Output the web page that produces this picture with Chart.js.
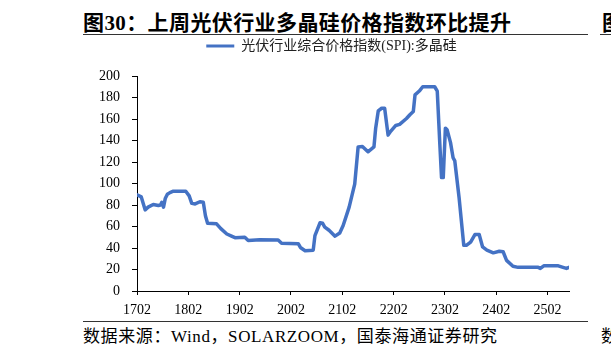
<!DOCTYPE html>
<html>
<head>
<meta charset="utf-8">
<script src="https://cdn.jsdelivr.net/npm/chart.js@4.4.1/dist/chart.umd.min.js"></script>
<style>
  html, body { margin: 0; padding: 0; background: #fff; }
  body { width: 611px; height: 354px; position: relative; overflow: hidden; font-family: "Liberation Serif", "Noto Sans CJK SC", serif; }
  #title { position: absolute; left: 83px; top: 6px; font-size: 21px; font-weight: bold; letter-spacing: 0.4px; white-space: nowrap; color: #000; }
  #title-rule { position: absolute; left: 83px; top: 34px; width: 505px; border-top: 1.5px solid #333; }
  #next-title { position: absolute; left: 602px; top: 6px; font-size: 21px; font-weight: bold; color: #000; }
  #next-rule { position: absolute; left: 600px; top: 34px; width: 20px; border-top: 1.5px solid #333; }
  #chart-box { position: absolute; left: 0; top: 18px; width: 611px; height: 302px; }
  #source-rule { position: absolute; left: 83px; top: 321px; width: 505px; border-top: 1px solid #333; }
  #source { position: absolute; left: 83px; top: 322px; font-size: 17px; letter-spacing: 0.6px; white-space: pre; color: #000; }
  #next-source { position: absolute; left: 601px; top: 322px; font-size: 17px; color: #000; }
</style>
</head>
<body>
<div id="title">图30：上周光伏行业多晶硅价格指数环比提升</div>
<div id="title-rule"></div>
<div id="next-title">图</div>
<div id="next-rule"></div>
<div id="chart-box"><canvas id="spi-chart"></canvas></div>
<div id="source-rule"></div>
<div id="source">数据来源：Wind，SOLARZOOM，国泰海通证券研究</div>
<div id="next-source">数</div>
<script>
// Series label
const seriesName = '光伏行业综合价格指数(SPI):多晶硅';

// Months since 2017-02 (x position of each reading)
const months = [
    0, 1.0, 1.9, 2.6, 3.8, 5.0, 5.5, 5.8, 6.2, 6.6, 7.1, 7.7, 8.5, 11.4, 12.2, 12.8,
    13.6, 14.7, 15.5, 16.0, 16.5, 18.6, 19.6, 21.0, 22.1, 22.9, 25.2, 26.0, 28.7,
    33.0, 33.8, 37.7, 38.2, 39.3, 41.2, 41.6, 42.8, 43.4, 43.9, 44.9, 46.3, 47.4,
    48.2, 49.6, 50.6, 50.9, 51.7, 52.7, 54.0, 55.4, 55.8, 56.4, 57.2, 57.9, 58.7,
    59.3, 60.5, 61.4, 63.0, 63.8, 64.6, 65.0, 66.0, 66.8, 69.6, 70.2, 70.8, 71.2,
    71.6, 72.1, 72.5, 73.3, 73.9, 74.3, 75.3, 76.4, 77.0, 78.0, 79.0, 80.0, 80.8,
    81.8, 83.3, 84.7, 85.6, 86.4, 87.9, 89.1, 93.8, 94.3, 95.1, 98.5, 99.6, 100.4, 101
];

// SPI polysilicon index values
const spiValues = [
    89.5, 87.5, 75.5, 78, 80.5, 79.5, 80, 82.5, 78, 86, 90, 91.5, 92.8, 92.8, 88.5, 81.5,
    81, 83, 82.5, 70, 63, 62.5, 58, 53, 51, 49.6, 50, 47, 47.7,
    47.5, 44.5, 44, 40.5, 37.5, 38, 51.5, 63.5, 63, 59.5, 56.5, 51, 54,
    61, 78, 94.5, 99.5, 134, 134.5, 129.5, 134, 151.5, 167.5, 170, 170, 145,
    148.5, 154, 155, 160.5, 164, 167, 182.5, 186, 190, 190, 186, 136.5, 105.5,
    105.5, 151.5, 150, 138, 124, 121, 87, 42.5, 42.5, 45.5, 52.5, 52.5, 41,
    38, 35.5, 37, 36.5, 28.5, 23, 22, 22, 21, 23.4, 23.4, 22, 21, 22
];

// X tick labels, one per year (every 12 months)
const xTickLabels = ['1702', '1802', '1902', '2002', '2102', '2202', '2302', '2402', '2502'];

const lineColor = '#4472C4';
const tickFont = { family: '"Liberation Serif", serif', size: 14 };

const points = months.map((m, i) => ({ x: m, y: spiValues[i] }));

// Extra gap between legend and plot area
const legendGap = {
    id: 'legendGap',
    beforeInit(chart) {
        const fit = chart.legend.fit;
        chart.legend.fit = function () {
            fit.bind(chart.legend)();
            this.height += 13;
        };
    }
};

const ctx = document.getElementById('spi-chart').getContext('2d');
const spiChart = new Chart(ctx, {
    type: 'line',
    data: {
        datasets: [{
            label: seriesName,
            data: points,
            borderColor: lineColor,
            backgroundColor: lineColor,
            borderWidth: 3.5,
            pointRadius: 0,
            tension: 0,
            borderJoinStyle: 'round',
            borderCapStyle: 'round'
        }]
    },
    plugins: [legendGap],
    options: {
        responsive: true,
        maintainAspectRatio: false,
        animation: false,
        layout: {
            padding: { left: 94, right: 42, top: 0, bottom: 0 }
        },
        plugins: {
            tooltip: { enabled: false },
            legend: {
                display: true,
                position: 'top',
                labels: {
                    boxWidth: 28,
                    boxHeight: 3,
                    padding: 21,
                    color: '#222',
                    font: { family: '"Liberation Serif", "Noto Sans CJK SC", serif', size: 14 },
                    generateLabels: chart => {
                        const items = Chart.defaults.plugins.legend.labels.generateLabels(chart);
                        items.forEach(item => { item.lineWidth = 0; });
                        return items;
                    }
                }
            }
        },
        scales: {
            x: {
                type: 'linear',
                min: 0,
                max: 101,
                afterBuildTicks: scale => {
                    scale.ticks = xTickLabels.map((_, i) => ({ value: i * 12 }));
                },
                afterFit: scale => { scale.height = 29; },
                ticks: {
                    color: '#000',
                    font: tickFont,
                    padding: 7,
                    maxRotation: 0,
                    autoSkip: false,
                    callback: value => xTickLabels[Math.round(value / 12)]
                },
                grid: { drawOnChartArea: false, drawTicks: true, tickLength: 4, color: '#000' },
                border: { color: '#000', width: 1 }
            },
            y: {
                min: 0,
                max: 200,
                afterFit: scale => { scale.width = 43; },
                ticks: {
                    stepSize: 20,
                    color: '#000',
                    font: tickFont,
                    padding: 12
                },
                grid: { drawOnChartArea: false, drawTicks: true, tickLength: 5, color: '#000' },
                border: { color: '#000', width: 1 }
            }
        }
    }
});
</script>
</body>
</html>
